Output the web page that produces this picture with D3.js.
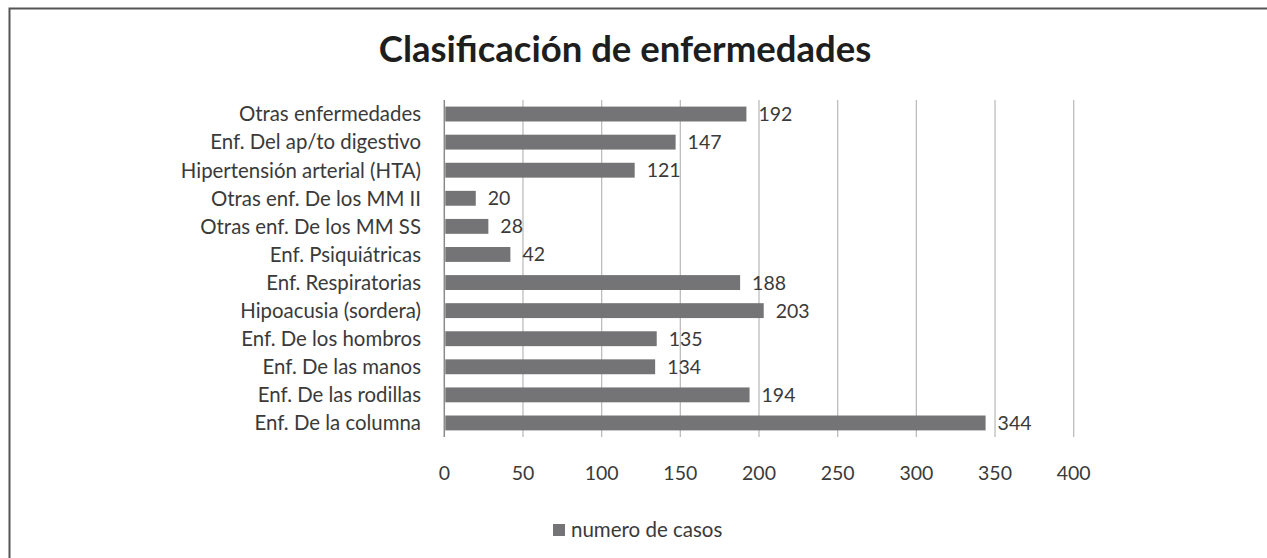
<!DOCTYPE html>
<meta charset="utf-8">
<style>
body { margin: 0; background: #fff; }
text { font-family: "Lato", "Open Sans", sans-serif; fill: #3a3a3a; }
.grid line { stroke: #bdbdbd; stroke-width: 1.3px; }
</style>
<body>
<svg width="1267" height="558"></svg>
<script src="https://cdn.jsdelivr.net/npm/d3@7"></script>
<script>

// chart data
var categories = [
  "Otras enfermedades",
  "Enf. Del ap/to digestivo",
  "Hipertensión arterial (HTA)",
  "Otras enf. De los MM II",
  "Otras enf. De los MM SS",
  "Enf. Psiquiátricas",
  "Enf. Respiratorias",
  "Hipoacusia (sordera)",
  "Enf. De los hombros",
  "Enf. De las manos",
  "Enf. De las rodillas",
  "Enf. De la columna"
];
var casos = [192, 147, 121, 20, 28, 42, 188, 203, 135, 134, 194, 344];
var xTicks = [0, 50, 100, 150, 200, 250, 300, 350, 400];
var seriesName = "numero de casos";
var title = "Clasificación de enfermedades";

var svg = d3.select("svg");

// outer frame (runs off the right and bottom edge like in the scan)
svg.append("path")
    .attr("d", "M9.5,600 V8.5 H1300")
    .attr("fill", "none")
    .attr("stroke", "#555")
    .attr("stroke-width", 2);

svg.append("text")
    .attr("x", 625)
    .attr("y", 62)
    .attr("text-anchor", "middle")
    .style("font-size", "36.5px")
    .style("font-weight", "bold")
    .style("fill", "#1e1e1e")
    .text(title);

var x = d3.scaleLinear().domain([0, 400]).range([444.3, 1073.7]);
var y = d3.scaleBand().domain(categories).range([100, 437])
    .paddingInner(0.47).paddingOuter(0.235);

// vertical gridlines
svg.append("g").attr("class", "grid")
  .selectAll("line")
  .data(xTicks.slice(1))
  .enter().append("line")
    .attr("x1", function(d) { return x(d); })
    .attr("x2", function(d) { return x(d); })
    .attr("y1", 100)
    .attr("y2", 437);

// category axis line
svg.append("line")
    .attr("x1", x(0)).attr("x2", x(0))
    .attr("y1", 100).attr("y2", 437)
    .attr("stroke", "#8a8a8a")
    .attr("stroke-width", 1.5);

svg.append("g")
  .selectAll("rect")
  .data(casos)
  .enter().append("rect")
    .attr("x", x(0) + 1)
    .attr("y", function(d, i) { return y(categories[i]); })
    .attr("width", function(d) { return x(d) - x(0) - 1; })
    .attr("height", y.bandwidth())
    .attr("fill", "#747476");

// value labels
svg.append("g")
  .selectAll("text")
  .data(casos)
  .enter().append("text")
    .attr("x", function(d) { return x(d) + 12; })
    .attr("y", function(d, i) { return y(categories[i]) + y.bandwidth() / 2; })
    .attr("dy", "0.36em")
    .style("font-size", "19.5px")
    .text(function(d) { return d; });

// category labels
svg.append("g")
  .selectAll("text")
  .data(categories)
  .enter().append("text")
    .attr("x", 421)
    .attr("y", function(d) { return y(d) + y.bandwidth() / 2; })
    .attr("dy", "0.36em")
    .attr("text-anchor", "end")
    .style("font-size", "20.4px")
    .text(function(d) { return d; });

// x tick labels
svg.append("g")
  .selectAll("text")
  .data(xTicks)
  .enter().append("text")
    .attr("x", function(d) { return x(d); })
    .attr("y", 473)
    .attr("dy", "0.36em")
    .attr("text-anchor", "middle")
    .style("font-size", "19.5px")
    .text(function(d) { return d; });

// legend
var legend = svg.append("g");
legend.append("rect")
    .attr("x", 553).attr("y", 524)
    .attr("width", 12).attr("height", 12)
    .attr("fill", "#747476");
legend.append("text")
    .attr("x", 571).attr("y", 530)
    .attr("dy", "0.36em")
    .style("font-size", "20.5px")
    .text(seriesName);

</script>
</body>
